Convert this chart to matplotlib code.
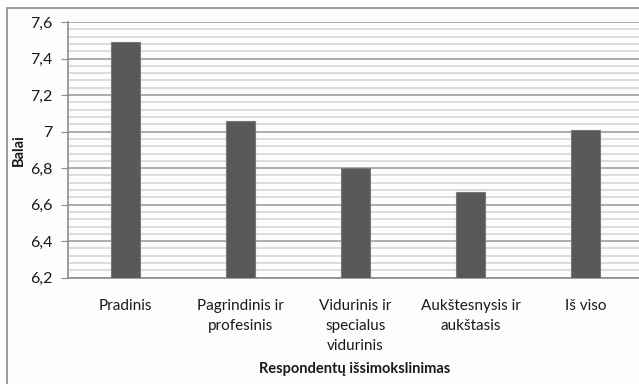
import matplotlib
matplotlib.use('Agg')
import matplotlib.pyplot as plt
from matplotlib.patches import Rectangle
from matplotlib.ticker import MultipleLocator, FuncFormatter

plt.rcParams['font.family'] = ['Lato', 'DejaVu Sans']

# Vidutiniai balai pagal išsimokslinimą
categories = ['Pradinis', 'Pagrindinis ir\nprofesinis', 'Vidurinis ir\nspecialus\nvidurinis',
              'Aukštesnysis ir\naukštasis', 'Iš viso']
scores = [7.49, 7.06, 6.80, 6.67, 7.01]

W, H = 639, 384
fig = plt.figure(figsize=(W / 100, H / 100), dpi=100)
fig.patch.set_facecolor('white')

# chart frame (right and bottom edges fall outside the image)
fig.patches.append(Rectangle((7 / W, -0.05), 1.0, 1 - 8 / H + 0.05, transform=fig.transFigure,
                             facecolor='#fdfdfd', edgecolor='#8c8c8c', linewidth=1.2, zorder=-5))

ax = fig.add_axes([68 / W, 1 - 277.7 / H, 575 / W, (277.7 - 22) / H])
ax.set_zorder(2)
ax.set_facecolor('none')

x = range(len(categories))
ax.bar(x, scores, width=0.25, color='#595959', edgecolor='#7a7a7a', linewidth=0.8, zorder=3)

ax.set_xlim(-0.5, len(categories) - 0.5)
ax.set_ylim(6.2, 7.6)
ax.yaxis.set_major_locator(MultipleLocator(0.2))
ax.yaxis.set_minor_locator(MultipleLocator(0.04))
ax.yaxis.set_major_formatter(FuncFormatter(lambda v, p: f'{round(v, 1):g}'.replace('.', ',')))
ax.grid(which='minor', axis='y', color='#d9d9d9', linewidth=1.3, zorder=1)
ax.grid(which='major', axis='y', color='#a6a6a6', linewidth=1.3, zorder=2)

ax.set_xticks(list(x))
ax.set_xticklabels(categories, fontsize=11, color='#1a1a1a', linespacing=1.55)
ax.tick_params(axis='x', length=0, pad=15)
ax.tick_params(axis='y', which='major', length=5, color='#8c8c8c', labelsize=11.5,
               labelcolor='#1a1a1a', pad=6)
ax.tick_params(axis='y', which='minor', length=0)

for side in ['top', 'right']:
    ax.spines[side].set_visible(False)
for side in ['left', 'bottom']:
    ax.spines[side].set_color('#8c8c8c')
    ax.spines[side].set_linewidth(1.2)

ax.set_ylabel('Balai', fontsize=10.5, fontweight='bold', color='#1a1a1a')
ax.yaxis.set_label_coords(-42 / 575, 0.5)
fig.text(355 / W, 1 - 369 / H, 'Respondentų išsimokslinimas', ha='center', va='center',
         fontsize=10.5, fontweight='bold', color='#1a1a1a')

fig.savefig('out.png', dpi=100)
